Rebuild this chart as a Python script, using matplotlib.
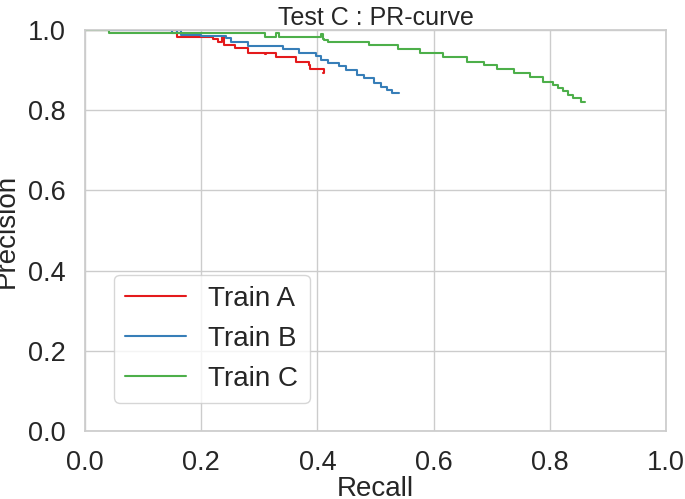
import matplotlib
matplotlib.use("Agg")
import matplotlib.pyplot as plt
import seaborn as sns

# recall / precision steps
recall_a = [0.0, 0.158, 0.221, 0.229, 0.236, 0.240, 0.258, 0.281, 0.309, 0.312, 0.329, 0.363, 0.386, 0.388, 0.412]
prec_a = [1.0, 0.983, 0.977, 0.971, 0.983, 0.963, 0.954, 0.943, 0.939, 0.943, 0.932, 0.921, 0.913, 0.902, 0.892]
recall_a_end = 0.41

recall_b = [0.0, 0.150, 0.158, 0.165, 0.200, 0.243, 0.252, 0.281, 0.340, 0.369, 0.398, 0.406, 0.418, 0.437,
            0.449, 0.469, 0.480, 0.497, 0.509, 0.520, 0.529]
prec_b = [1.0, 0.993, 1.0, 0.988, 0.985, 0.979, 0.971, 0.960, 0.952, 0.942, 0.935, 0.925, 0.917, 0.909,
          0.900, 0.888, 0.880, 0.867, 0.859, 0.850, 0.842]
recall_b_end = 0.54

recall_c = [0.0, 0.042, 0.309, 0.329, 0.334, 0.406, 0.409, 0.412, 0.418, 0.489, 0.539, 0.577, 0.617, 0.657,
            0.686, 0.709, 0.739, 0.766, 0.789, 0.806, 0.814, 0.823, 0.831, 0.840, 0.854]
prec_c = [1.0, 0.992, 0.982, 0.992, 0.982, 0.990, 0.978, 0.975, 0.971, 0.963, 0.952, 0.942, 0.932, 0.921,
          0.913, 0.902, 0.892, 0.882, 0.871, 0.863, 0.855, 0.847, 0.838, 0.830, 0.821]
recall_c_end = 0.86

sns.set_theme(style="whitegrid")
plt.rcParams["font.family"] = ["Liberation Sans", "DejaVu Sans"]

fig, ax = plt.subplots(figsize=(6.85, 4.99), dpi=100)
# axes box: x 85..666 px, y 30..431 px
fig.subplots_adjust(left=85 / 685, right=666 / 685, top=1 - 30 / 499, bottom=1 - 431 / 499)

colors = ["#e41a1c", "#377eb8", "#4daf4a"]
for r, p, end, lab, col in [(recall_a, prec_a, recall_a_end, "Train A", colors[0]),
                            (recall_b, prec_b, recall_b_end, "Train B", colors[1]),
                            (recall_c, prec_c, recall_c_end, "Train C", colors[2])]:
    ax.step(r + [end], p + [p[-1]], where="post", color=col, lw=1.5, label=lab)

ax.set_xlim(0, 1)
ax.set_ylim(0, 1)
ax.set_title("Test C : PR-curve", fontsize=18, pad=3.5)
ax.set_xlabel("Recall", fontsize=20, labelpad=0)
ax.set_ylabel("Precision", fontsize=20, labelpad=6)
ax.tick_params(labelsize=19.5, pad=8)
ax.legend(loc="lower left", bbox_to_anchor=(0.05, 0.07), borderaxespad=0,
          fontsize=20, handlelength=2.2)

fig.savefig("out.png")
